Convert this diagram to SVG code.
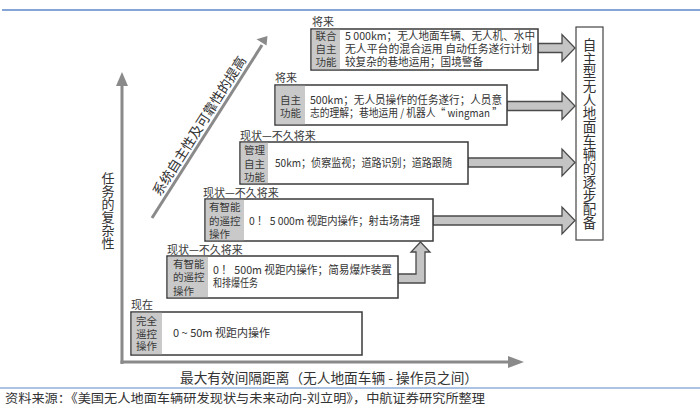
<svg xmlns="http://www.w3.org/2000/svg" width="700" height="411" viewBox="0 0 700 411">
<style>
text{font-family:"Noto Sans CJK SC","Liberation Sans",sans-serif;fill:#333}
.t{font-size:11px}
.c{font-size:10.5px;text-anchor:middle;fill:#3a3a3a}
.cl{font-size:10.5px;fill:#3a3a3a}
.lbl{font-size:11px;fill:#3a3a3a}
.box{fill:#fff;stroke:#3a3a3a;stroke-width:1.5}
.cell{fill:#c9c9c9}
.arr{fill:#c4c4c4;stroke:#4a4a4a;stroke-width:1.3;stroke-linejoin:miter}
.axis{stroke:#8a8a8a;stroke-width:3;fill:none}
.ah{fill:#8a8a8a}
.v{writing-mode:vertical-rl;text-orientation:upright}
</style>
<rect width="700" height="411" fill="#fff"/>
<line x1="2" y1="10" x2="700" y2="10" stroke="#5b87c9" stroke-width="1.5"/>
<line x1="0" y1="388" x2="700" y2="388" stroke="#5b87c9" stroke-width="1.2"/>

<g id="axes">
<line class="axis" x1="122" y1="364" x2="122" y2="84"/>
<polygon class="ah" points="116,86 122,72 128,86"/>
<line class="axis" x1="120.5" y1="362" x2="510" y2="362"/>
<polygon class="ah" points="508,356 524,362 508,368"/>
<line class="axis" x1="152" y1="218" x2="262" y2="45"/>
<polygon class="ah" points="256.5,39.2 267.5,36 266.5,45.6"/>
<text class="v" font-size="13" x="108" y="172">任务的复杂性</text>
<text font-size="13.5" transform="translate(160,197) rotate(-57.6)">系统自主性及可靠性的提高</text>
<text font-size="13.5" x="180" y="383" textLength="298" lengthAdjust="spacingAndGlyphs">最大有效间隔距离（无人地面车辆 - 操作员之间）</text>
</g>

<g id="connectors">
<polygon class="arr" points="398,274 416,274 416,252 411,252 420.5,242 430,252 425,252 425,283 398,283"/>
<polygon class="arr" points="433,216 562,216 562,207 575,220.5 562,234 562,225 433,225"/>
<polygon class="arr" points="468,158 562,158 562,149 575,162.5 562,176 562,167 468,167"/>
<polygon class="arr" points="507,101.5 562,101.5 562,92.5 575,106 562,119.5 562,110.5 507,110.5"/>
<polygon class="arr" points="538,43.5 562,43.5 562,34.5 575,48 562,61.5 562,52.5 538,52.5"/>
</g>

<g id="level1">
<text class="lbl" x="131" y="309">现在</text>
<rect class="box" x="131" y="312" width="231" height="43"/>
<rect class="cell" x="131.8" y="312.8" width="30.2" height="41.4"/>
<text class="c"><tspan x="146.5" y="325">完全</tspan><tspan x="146.5" y="337.5">遥控</tspan><tspan x="146.5" y="350">操作</tspan></text>
<text class="t" x="173" y="337" textLength="97" lengthAdjust="spacingAndGlyphs">0 ~ 50m 视距内操作</text>
</g>

<g id="level2">
<text class="lbl" x="167" y="254">现状—不久将来</text>
<rect class="box" x="167" y="256" width="231" height="42"/>
<rect class="cell" x="167.8" y="256.8" width="40.2" height="40.4"/>
<text class="cl"><tspan x="173" y="267.5">有智能</tspan><tspan x="173" y="281">的遥控</tspan><tspan x="173" y="294.5">操作</tspan></text>
<text class="t" x="213" y="274" textLength="179" lengthAdjust="spacingAndGlyphs">0 ！ 500m 视距内操作；简易爆炸装置</text>
<text class="t" x="213" y="286.5" textLength="45" lengthAdjust="spacingAndGlyphs">和排爆任务</text>
</g>

<g id="level3">
<text class="lbl" x="203" y="197">现状—不久将来</text>
<rect class="box" x="205" y="199" width="228" height="42"/>
<rect class="cell" x="205.8" y="199.8" width="38.2" height="40.4"/>
<text class="cl"><tspan x="209" y="211">有智能</tspan><tspan x="209" y="224.5">的遥控</tspan><tspan x="209" y="237.5">操作</tspan></text>
<text class="t" x="249" y="225" textLength="171" lengthAdjust="spacingAndGlyphs">0 ！ 5 000m 视距内操作；射击场清理</text>
</g>

<g id="level4">
<text class="lbl" x="240" y="140">现状—不久将来</text>
<rect class="box" x="240" y="142" width="228" height="42"/>
<rect class="cell" x="240.8" y="142.8" width="27.2" height="40.4"/>
<text class="c"><tspan x="254.5" y="154">管理</tspan><tspan x="254.5" y="167.5">自主</tspan><tspan x="254.5" y="181">功能</tspan></text>
<text class="t" x="275" y="167" textLength="177" lengthAdjust="spacingAndGlyphs">50km；侦察监视；道路识别；道路跟随</text>
</g>

<g id="level5">
<text class="lbl" x="275" y="82">将来</text>
<rect class="box" x="275" y="85" width="232" height="40"/>
<rect class="cell" x="275.8" y="85.8" width="29.2" height="38.4"/>
<text class="c"><tspan x="290.5" y="104">自主</tspan><tspan x="290.5" y="117">功能</tspan></text>
<text class="t" x="310" y="104" textLength="192" lengthAdjust="spacingAndGlyphs">500km；无人员操作的任务遂行；人员意</text>
<text class="t" x="310" y="117" textLength="192" lengthAdjust="spacingAndGlyphs">志的理解；巷地运用 / 机器人“ wingman ”</text>
</g>

<g id="level6">
<text class="lbl" x="312" y="26">将来</text>
<rect class="box" x="311" y="29" width="227" height="41"/>
<rect class="cell" x="311.8" y="29.8" width="28.2" height="39.4"/>
<text class="c"><tspan x="326" y="39.5">联合</tspan><tspan x="326" y="53">自主</tspan><tspan x="326" y="66">功能</tspan></text>
<text class="t" x="345" y="39.5" textLength="190" lengthAdjust="spacingAndGlyphs">5 000km；无人地面车辆、无人机、水中</text>
<text class="t" x="345" y="53" textLength="187" lengthAdjust="spacingAndGlyphs">无人平台的混合运用 自动任务遂行计划</text>
<text class="t" x="345" y="66" textLength="138" lengthAdjust="spacingAndGlyphs">较复杂的巷地运用；国境警备</text>
</g>

<g id="target">
<rect x="576" y="27" width="27" height="213" fill="#fff" stroke="#444" stroke-width="1.2"/>
<text class="v" font-size="13.5" x="589.5" y="38" letter-spacing="0.2">自主型无人地面车辆的逐步配备</text>
</g>

<text font-size="12.5" x="5" y="403" fill="#222" textLength="480" lengthAdjust="spacingAndGlyphs">资料来源：《美国无人地面车辆研发现状与未来动向-刘立明》，中航证券研究所整理</text>
</svg>
